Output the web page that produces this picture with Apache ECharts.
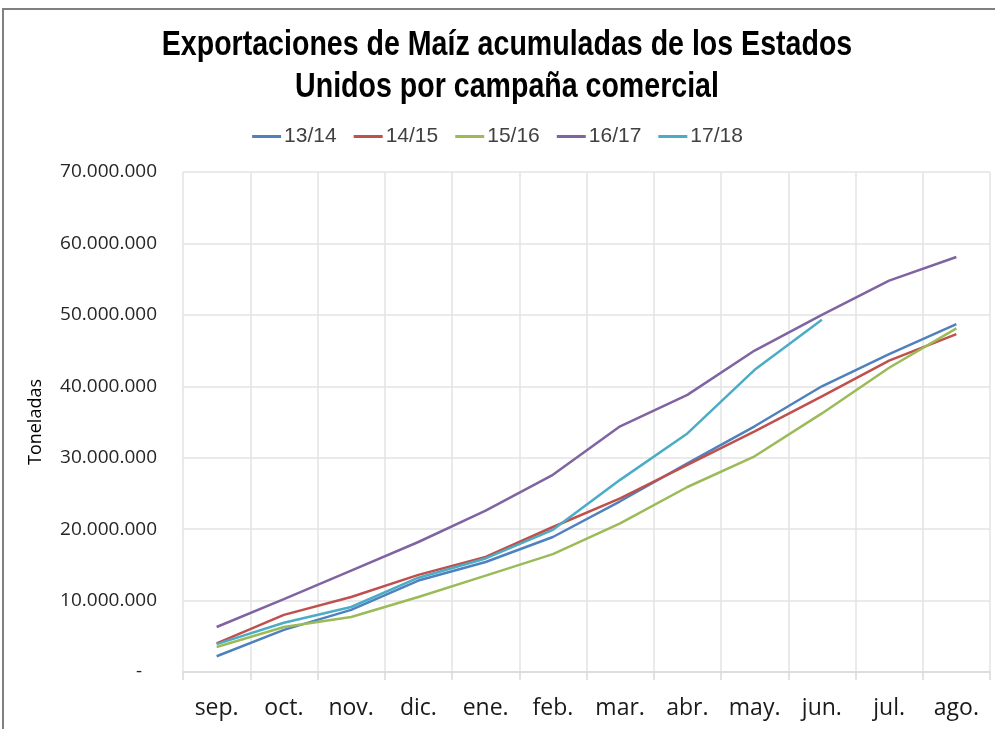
<!DOCTYPE html>
<html>
<head>
<meta charset="utf-8">
<script src="https://cdn.jsdelivr.net/npm/echarts@6/dist/echarts.min.js"></script>
<style>
  html, body { margin: 0; padding: 0; background: #fff; }
  #chart { width: 995px; height: 729px; }
</style>
</head>
<body>
<div id="chart"></div>
<script>
// meses de la campaña comercial
const months = ['sep.', 'oct.', 'nov.', 'dic.', 'ene.', 'feb.', 'mar.', 'abr.', 'may.', 'jun.', 'jul.', 'ago.'];
const seasons = ['13/14', '14/15', '15/16', '16/17', '17/18'];
const titleLines = ['Exportaciones de Maíz acumuladas de los Estados', 'Unidos por campaña comercial'];

// toneladas acumuladas
const s1314 = [2200000, 5900000, 8700000, 12800000, 15400000, 18900000, 23900000, 29200000, 34400000, 40000000, 44500000, 48700000];
const s1415 = [4000000, 8000000, 10500000, 13600000, 16100000, 20300000, 24300000, 29000000, 33700000, 38600000, 43600000, 47300000];
const s1516 = [3500000, 6300000, 7700000, 10500000, 13500000, 16500000, 20800000, 25900000, 30200000, 36200000, 42600000, 48100000];
const s1617 = [6300000, 10200000, 14200000, 18200000, 22600000, 27600000, 34400000, 38800000, 45000000, 50000000, 54800000, 58100000];
const s1718 = [3900000, 6900000, 9100000, 13200000, 15900000, 19900000, 26900000, 33400000, 42300000, 49300000];

const colors = ['#4F81BD', '#C0504D', '#9BBB59', '#8064A2', '#4BACC6'];
const seriesData = [s1314, s1415, s1516, s1617, s1718];

function fmt(v) {
    if (v === 0) return '-   ';
    return String(v).replace(/\B(?=(\d{3})+(?!\d))/g, '.');
}

var chart = echarts.init(document.getElementById('chart'));

// titulo en letra estrecha: se comprime en horizontal
var titleFont = "bold 34px 'Liberation Sans', Arial, sans-serif";

var option = {
    animation: false,
    color: colors,
    graphic: [{
        type: 'rect',
        shape: { x: 3, y: 9, width: 1000, height: 730 },
        style: { fill: 'none', stroke: '#808080', lineWidth: 2 },
        silent: true
    }, {
        type: 'text',
        x: 507, y: 45, scaleX: 0.84, scaleY: 1.05,
        style: { text: titleLines[0], font: titleFont, fill: '#000', textAlign: 'center', textVerticalAlign: 'middle' }
    }, {
        type: 'text',
        x: 507, y: 87, scaleX: 0.84, scaleY: 1.05,
        style: { text: titleLines[1], font: titleFont, fill: '#000', textAlign: 'center', textVerticalAlign: 'middle' }
    }],
    legend: {
        data: seasons,
        top: 121,
        left: 'center',
        itemWidth: 29,
        itemHeight: 3,
        itemGap: 17,
        icon: 'rect',
        textStyle: {
            fontFamily: "'Liberation Sans', sans-serif",
            fontSize: 21,
            color: '#404040',
            padding: [0, 0, 0, -2]
        }
    },
    grid: {
        left: 183,
        right: 5,
        top: 172,
        bottom: 57
    },
    xAxis: {
        type: 'category',
        data: months,
        boundaryGap: true,
        axisLine: { lineStyle: { color: '#d9d9d9', width: 1.5 } },
        axisTick: { show: true, length: 8, lineStyle: { color: '#d9d9d9', width: 1.5 } },
        splitLine: { show: true, lineStyle: { color: '#e3e3e3', width: 1.5 } },
        axisLabel: {
            interval: 0,
            margin: 25,
            fontFamily: "'Open Sans', sans-serif",
            fontSize: 23,
            color: '#1a1a1a'
        }
    },
    yAxis: {
        type: 'value',
        min: 0,
        max: 70000000,
        interval: 10000000,
        name: 'Toneladas',
        nameLocation: 'middle',
        nameGap: 138,
        nameTextStyle: {
            fontFamily: "'Open Sans', sans-serif",
            fontSize: 18,
            color: '#000'
        },
        axisLine: { show: false },
        axisTick: { show: false },
        splitLine: { lineStyle: { color: '#e3e3e3', width: 1.5 } },
        axisLabel: {
            margin: 26,
            fontFamily: "'Open Sans', sans-serif",
            fontSize: 19,
            color: '#262626',
            formatter: fmt
        }
    },
    series: seasons.map(function (name, i) {
        return {
            name: name,
            type: 'line',
            data: seriesData[i],
            symbol: 'none',
            lineStyle: { width: 2.5 }
        };
    })
};

chart.setOption(option);
</script>
</body>
</html>
